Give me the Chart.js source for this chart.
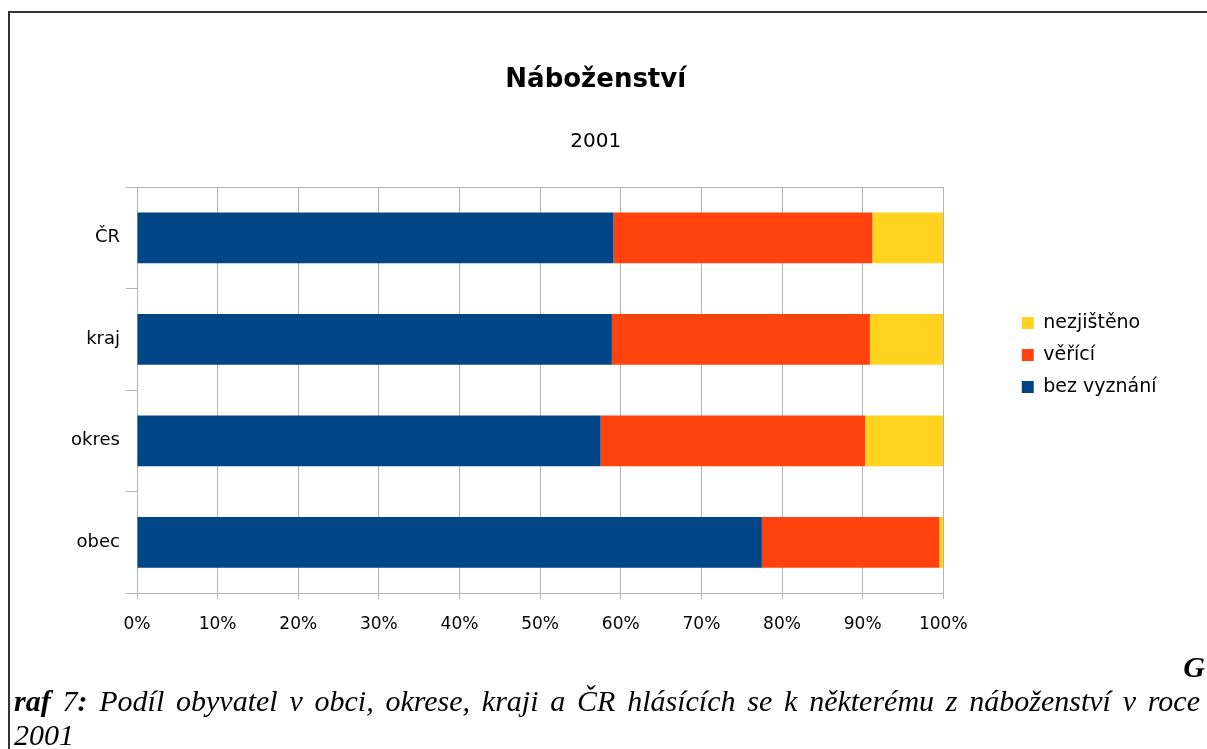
<!DOCTYPE html>
<html>
<head>
<meta charset="utf-8">
<script src="https://cdn.jsdelivr.net/npm/chart.js@4.4.1/dist/chart.umd.min.js"></script>
<style>
html, body { margin: 0; padding: 0; background: #fff; }
#wrap { position: relative; width: 1207px; height: 749px; overflow: hidden; }
#chart { position: absolute; left: 0; top: 0; }
.frame { position: absolute; left: 8px; top: 11px; width: 1300px; height: 800px; border-top: 2px solid #333; border-left: 2px solid #333; }
.cap { position: absolute; font-family: 'Liberation Serif', 'Times New Roman', serif; font-style: italic; font-size: 30px; line-height: 34px; color: #000; white-space: nowrap; }
.just { width: 1186px; text-align: justify; text-align-last: justify; white-space: normal; }
</style>
</head>
<body>
<div id="wrap">
  <div class="frame"></div>
  <canvas id="chart" width="1207" height="749"></canvas>
  <div class="cap" style="right: 2px; top: 650px;"><b>G</b></div>
  <div class="cap just" style="left: 14px; top: 684px;"><b>raf </b>7<b>:</b> Podíl obyvatel v obci, okrese, kraji a ČR hlásících se k některému z náboženství v roce</div>
  <div class="cap" style="left: 14px; top: 718px;">2001</div>
</div>
<script>
// Data (percent)
const categories = ['ČR', 'kraj', 'okres', 'obec'];
const bezVyznani = [59.1, 58.9, 57.5, 77.5];
const verici = [32.1, 32.0, 32.8, 22.0];
const nezjisteno = [8.8, 9.1, 9.7, 0.5];
const xTicks = [0, 10, 20, 30, 40, 50, 60, 70, 80, 90, 100];

const gridGray = '#b3b3b3';

Chart.defaults.font.family = "'DejaVu Sans', sans-serif";
Chart.defaults.color = '#000';

let ctx = document.getElementById('chart').getContext('2d');
let chart = new Chart(ctx, {
    type: 'bar',
    data: {
        labels: categories,
        datasets: [
            { label: 'bez vyznání', data: bezVyznani, backgroundColor: '#004586', yAxisID: 'y' },
            { label: 'věřící', data: verici, backgroundColor: '#ff420e', yAxisID: 'y' },
            { label: 'nezjištěno', data: nezjisteno, backgroundColor: '#ffd320', yAxisID: 'y' }
        ]
    },
    options: {
        indexAxis: 'y',
        responsive: false,
        animation: false,
        events: [],
        layout: { padding: { top: 12, left: 25, right: 40.5, bottom: 51 } },
        datasets: {
            bar: { categoryPercentage: 1, barPercentage: 0.5, borderWidth: 0 }
        },
        plugins: {
            tooltip: { enabled: false },
            title: {
                display: true,
                text: 'Náboženství',
                font: { size: 26, weight: 'bold' },
                padding: { top: 52.4, bottom: 0 }
            },
            subtitle: {
                display: true,
                text: '2001',
                font: { size: 20 },
                padding: { top: 33.9, bottom: 33.5 }
            },
            legend: {
                position: 'right',
                reverse: true,
                labels: {
                    boxWidth: 12,
                    boxHeight: 12,
                    padding: 13,
                    font: { size: 19 }
                }
            }
        },
        scales: {
            x: {
                stacked: true,
                min: 0,
                max: 100,
                afterBuildTicks: (scale) => {
                    scale.ticks = xTicks.map(v => ({ value: v }));
                },
                afterFit: (scale) => {
                    scale.height = 105;
                },
                ticks: {
                    callback: (v) => v + '%',
                    font: { size: 17 },
                    padding: 15,
                    maxRotation: 0
                },
                grid: { color: gridGray, tickLength: 6 },
                border: { color: gridGray }
            },
            y: {
                stacked: true,
                afterFit: (scale) => {
                    scale.width = 112;
                },
                ticks: { font: { size: 18 }, padding: 6 },
                grid: {
                    offset: true,
                    tickLength: 11,
                    tickColor: gridGray,
                    color: (c) => (c.index === 0 ? gridGray : 'rgba(0,0,0,0)')
                },
                border: { color: gridGray }
            },
            // empty axis that only keeps the gap between plot and legend
            gap: {
                type: 'linear',
                position: 'right',
                ticks: { display: false },
                grid: { display: false },
                border: { display: false },
                afterFit: (scale) => {
                    scale.width = 65.5;
                }
            }
        }
    }
});
</script>
</body>
</html>
